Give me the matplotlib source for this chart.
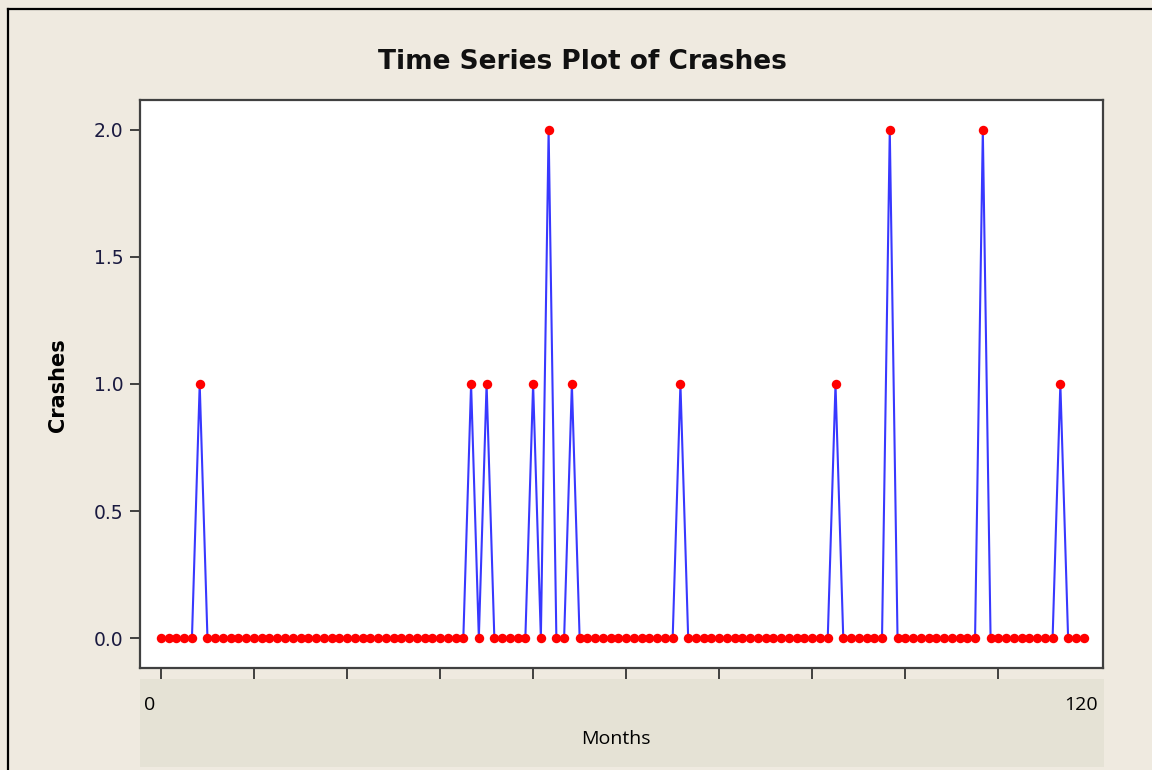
import matplotlib
matplotlib.use("Agg")
import matplotlib.pyplot as plt
from matplotlib.lines import Line2D
from matplotlib.patches import Rectangle

# ---- data ----
months = list(range(120))
crashes = [0, 0, 0, 0, 0, 1, 0, 0, 0, 0,
           0, 0, 0, 0, 0, 0, 0, 0, 0, 0,
           0, 0, 0, 0, 0, 0, 0, 0, 0, 0,
           0, 0, 0, 0, 0, 0, 0, 0, 0, 0,
           1, 0, 1, 0, 0, 0, 0, 0, 1, 0,
           2, 0, 0, 1, 0, 0, 0, 0, 0, 0,
           0, 0, 0, 0, 0, 0, 0, 1, 0, 0,
           0, 0, 0, 0, 0, 0, 0, 0, 0, 0,
           0, 0, 0, 0, 0, 0, 0, 1, 0, 0,
           0, 0, 0, 0, 2, 0, 0, 0, 0, 0,
           0, 0, 0, 0, 0, 0, 2, 0, 0, 0,
           0, 0, 0, 0, 0, 0, 1, 0, 0, 0]
y_ticks = [0.0, 0.5, 1.0, 1.5, 2.0]
x_ticks = [0, 12, 24, 36, 48, 60, 72, 84, 96, 108]
x_end_labels = ["0", "120"]

W, H = 1152, 770
fig = plt.figure(figsize=(W / 100, H / 100), dpi=100)
fig.patch.set_facecolor("#EFEAE0")

def fx(px):
    return px / W

def fy(py):
    return 1 - py / H

# gray band below plot for x-axis labels
fig.patches.append(Rectangle((fx(140), fy(767)), fx(1104) - fx(140), fy(679) - fy(767),
                             transform=fig.transFigure, facecolor="#E5E2D5",
                             edgecolor="none", zorder=0))
# outer border (left and top)
fig.lines.append(Line2D([fx(8), fx(8)], [fy(770), fy(9)], transform=fig.transFigure,
                        color="black", lw=1.6))
fig.lines.append(Line2D([fx(8), fx(1152)], [fy(9), fy(9)], transform=fig.transFigure,
                        color="black", lw=1.6))

ax = fig.add_axes([fx(140), fy(668), fx(1103) - fx(140), fy(100) - fy(668)])
ax.set_facecolor("white")
ax.plot(months, crashes, color="#3838FF", lw=1.5, zorder=2)
ax.plot(months, crashes, linestyle="none", marker="o", markersize=6.8,
        color="#FF0000", markeredgewidth=0, zorder=3)

ax.set_xlim(-2.7, 121.5)
ax.set_ylim(-0.118, 2.118)

ax.set_yticks(y_ticks)
ax.set_yticklabels([f"{v:.1f}" for v in y_ticks], fontsize=13.5, color="#1A1A40",
                   family="DejaVu Sans")
ax.tick_params(axis="y", direction="out", length=7, width=1.3, color="#333333", pad=5)
ax.set_xticks(x_ticks)
ax.set_xticklabels([])
ax.tick_params(axis="x", direction="out", length=10, width=1.3, color="#333333")

for s in ax.spines.values():
    s.set_color("#404040")
    s.set_linewidth(1.6)

# end labels of x axis (placed in the band via a blended transform)
import matplotlib.transforms as mtransforms
trans = mtransforms.blended_transform_factory(ax.transData, fig.transFigure)
fig.text(months[0] - 1.4, fy(705), x_end_labels[0], ha="center", va="center",
         fontsize=14, family="Open Sans", color="black", transform=trans, zorder=5)
fig.text(months[-1] - 0.4, fy(705), x_end_labels[1], ha="center", va="center",
         fontsize=14, family="Open Sans", color="black", transform=trans, zorder=5)

fig.text(fx(616), fy(739), "Months", ha="center", va="center", fontsize=14,
         family="Open Sans", color="black", zorder=5)
fig.text(fx(58), fy(385), "Crashes", ha="center", va="center", rotation=90,
         fontsize=15, fontweight="bold", family="DejaVu Sans", color="black")
fig.text(fx(582), fy(62), "Time Series Plot of Crashes", ha="center", va="center",
         fontsize=19, fontweight="bold", family="DejaVu Sans", color="#111111")

fig.savefig("out.png", dpi=100, facecolor=fig.get_facecolor())
